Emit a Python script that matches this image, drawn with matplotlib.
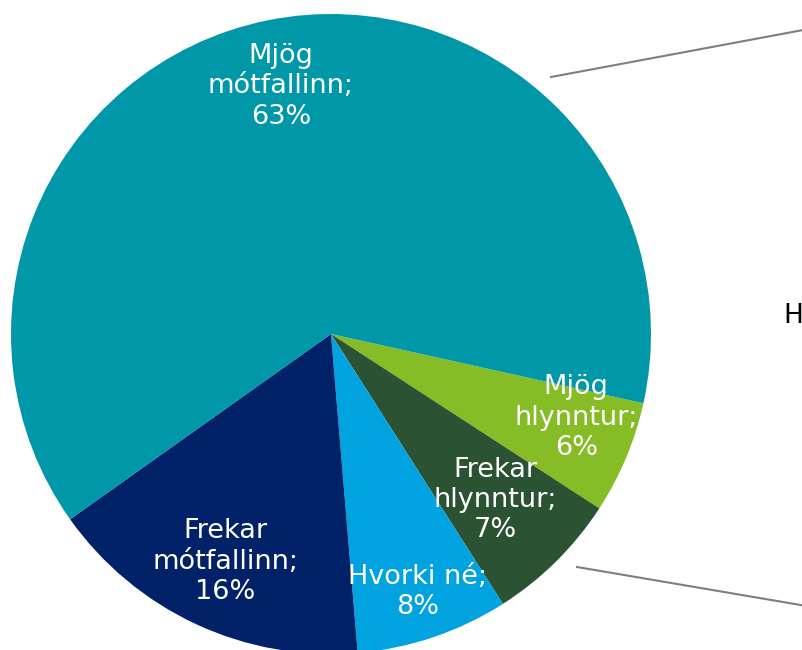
import numpy as np
import matplotlib
matplotlib.use("Agg")
import matplotlib.pyplot as plt
from matplotlib.lines import Line2D

# svör (hlutfall), réttsælis frá hægri
categories = ["Mjög\nhlynntur", "Frekar\nhlynntur", "Hvorki né", "Frekar\nmótfallinn", "Mjög\nmótfallinn"]
values = [5.7, 6.8, 7.7, 16.5, 63.3]
colors = ["#86BC25", "#2C5234", "#00A3E0", "#012169", "#0097A9"]
label_r = [0.81, 0.73, 0.85, 0.785, 0.79]
label_shift = [3.9, 0.0, 0.0, 0.0, 0.0]  # gráður

W, H = 802, 650
fig = plt.figure(figsize=(W / 100, H / 100), dpi=100)

# pie: centre (331, 334) px, radius 320 px
cx, cy, r = 331, 334, 320
ax = fig.add_axes([(cx - r) / W, (H - cy - r) / H, 2 * r / W, 2 * r / H])
wedges, _ = ax.pie(values, colors=colors, startangle=-12.5, counterclock=False,
                   radius=1, wedgeprops=dict(linewidth=0))
ax.set_xlim(-1, 1)
ax.set_ylim(-1, 1)
ax.set_aspect("equal")
ax.axis("off")

for w, name, v, lr, sh in zip(wedges, categories, values, label_r, label_shift):
    ang = np.deg2rad((w.theta1 + w.theta2) / 2 + sh)
    ax.text(lr * np.cos(ang), lr * np.sin(ang), "%s;\n%d%%" % (name, round(v)),
            ha="center", va="center", color="white", fontsize=19.5,
            linespacing=1.22)

# tengilínur yfir í seinni skífuna (utan myndar)
def px(x, y):
    return x / W, 1 - y / H

for (x0, y0), (x1, y1) in [((551, 77), (830, 25)), ((577, 567), (830, 610))]:
    fig.add_artist(Line2D(*zip(px(x0, y0), px(x1, y1)), color="#7F7F7F", lw=1.5))

fig.text(783 / W, 1 - 316 / H, "H", ha="left", va="center", fontsize=19, color="black")

fig.savefig("out.png", dpi=100)
